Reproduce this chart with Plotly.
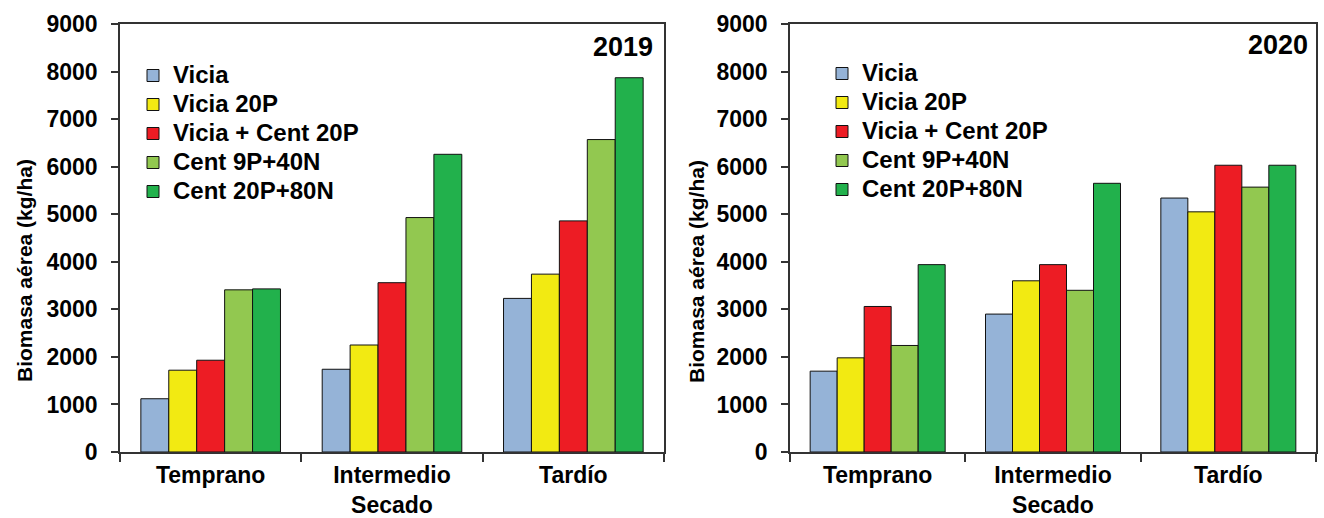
import plotly.graph_objects as go

# Fechas de secado (categorías del eje x)
categories = ["Temprano", "Intermedio<br>Secado", "Tardío"]

# Tratamientos
treatments = ["Vicia", "Vicia 20P", "Vicia + Cent 20P", "Cent 9P+40N", "Cent 20P+80N"]
colors = ["#95B3D7", "#F2EA12", "#ED1C24", "#92C850", "#22B14C"]

# Biomasa aérea (kg/ha), campaña 2019
vicia_2019 = [1120, 1740, 3230]
vicia_20p_2019 = [1720, 2250, 3740]
vicia_cent_20p_2019 = [1930, 3560, 4860]
cent_9p_40n_2019 = [3410, 4930, 6570]
cent_20p_80n_2019 = [3430, 6260, 7870]

# Biomasa aérea (kg/ha), campaña 2020
vicia_2020 = [1700, 2900, 5340]
vicia_20p_2020 = [1980, 3600, 5050]
vicia_cent_20p_2020 = [3060, 3940, 6030]
cent_9p_40n_2020 = [2240, 3400, 5570]
cent_20p_80n_2020 = [3940, 5650, 6030]

# Eje y
y_ticks = [0, 1000, 2000, 3000, 4000, 5000, 6000, 7000, 8000, 9000]

series_2019 = [vicia_2019, vicia_20p_2019, vicia_cent_20p_2019, cent_9p_40n_2019, cent_20p_80n_2019]
series_2020 = [vicia_2020, vicia_20p_2020, vicia_cent_20p_2020, cent_9p_40n_2020, cent_20p_80n_2020]

W, H = 1324, 518
FONT = "Liberation Sans, Arial, sans-serif"


def legend_label(text):
    # texto de la leyenda algo mayor que el espaciado de filas
    return f'<span style="font-size:24px">{text}</span>'


fig = go.Figure()

for name, color, vals in zip(treatments, colors, series_2019):
    fig.add_trace(go.Bar(
        x=categories, y=vals, name=legend_label(name),
        marker=dict(color=color, line=dict(color="#111111", width=1)),
        xaxis="x", yaxis="y", legend="legend",
    ))

for name, color, vals in zip(treatments, colors, series_2020):
    fig.add_trace(go.Bar(
        x=categories, y=vals, name=legend_label(name),
        marker=dict(color=color, line=dict(color="#111111", width=1)),
        xaxis="x2", yaxis="y2", legend="legend2",
    ))

y_top = 1 - 24 / H
y_bot = 1 - 452 / H

xaxis_common = dict(
    type="category", automargin=False,
    showline=True, linecolor="#333333", linewidth=1.5, mirror=True,
    ticks="outside", tickson="boundaries", ticklen=8, tickcolor="#333333", tickwidth=1.5,
    ticklabelstandoff=2,
    tickfont=dict(family=FONT, size=23, color="black", weight="bold"),
    showgrid=False, zeroline=False, fixedrange=True,
)
yaxis_common = dict(
    range=[0, 9000], tickvals=y_ticks, ticktext=[str(v) for v in y_ticks], automargin=False,
    showline=True, linecolor="#333333", linewidth=1.5, mirror=True,
    ticks="outside", ticklen=7, tickcolor="#333333", tickwidth=1.5,
    ticklabelstandoff=9,
    tickfont=dict(family=FONT, size=23, color="black", weight="bold"),
    showgrid=False, zeroline=False,
    domain=[y_bot, y_top],
)

legend_common = dict(
    font=dict(family=FONT, size=20, color="black", weight="bold"),
    bgcolor="rgba(0,0,0,0)", borderwidth=0,
    yanchor="top", xanchor="left", tracegroupgap=0,
)

title_font = dict(family=FONT, size=21, color="black", weight="bold")
year_font = dict(family=FONT, size=27, color="black", weight="bold")

fig.update_layout(
    width=W, height=H,
    margin=dict(l=0, r=0, t=0, b=0, autoexpand=False),
    paper_bgcolor="white", plot_bgcolor="white",
    barmode="group", bargap=0.23, bargroupgap=0,
    xaxis=dict(**xaxis_common, domain=[120 / W, 664 / W], anchor="y"),
    yaxis=dict(**yaxis_common, anchor="x"),
    xaxis2=dict(**xaxis_common, domain=[790 / W, 1316 / W], anchor="y2"),
    yaxis2=dict(**yaxis_common, anchor="x2"),
    legend=dict(**legend_common, x=133 / W, y=1 - 56 / H),
    legend2=dict(**legend_common, x=822 / W, y=1 - 54 / H),
    annotations=[
        dict(text="2019", x=655 / W, y=1 - 47 / H, xref="paper", yref="paper",
             xanchor="right", yanchor="middle", showarrow=False, font=year_font),
        dict(text="2020", x=1310 / W, y=1 - 45 / H, xref="paper", yref="paper",
             xanchor="right", yanchor="middle", showarrow=False, font=year_font),
        dict(text="Biomasa aérea (kg/ha)", x=24 / W, y=1 - 271 / H, xref="paper", yref="paper",
             xanchor="center", yanchor="middle", textangle=-90, showarrow=False, font=title_font),
        dict(text="Biomasa aérea (kg/ha)", x=696 / W, y=1 - 271 / H, xref="paper", yref="paper",
             xanchor="center", yanchor="middle", textangle=-90, showarrow=False, font=title_font),
    ],
)

fig.write_html("out.html")
